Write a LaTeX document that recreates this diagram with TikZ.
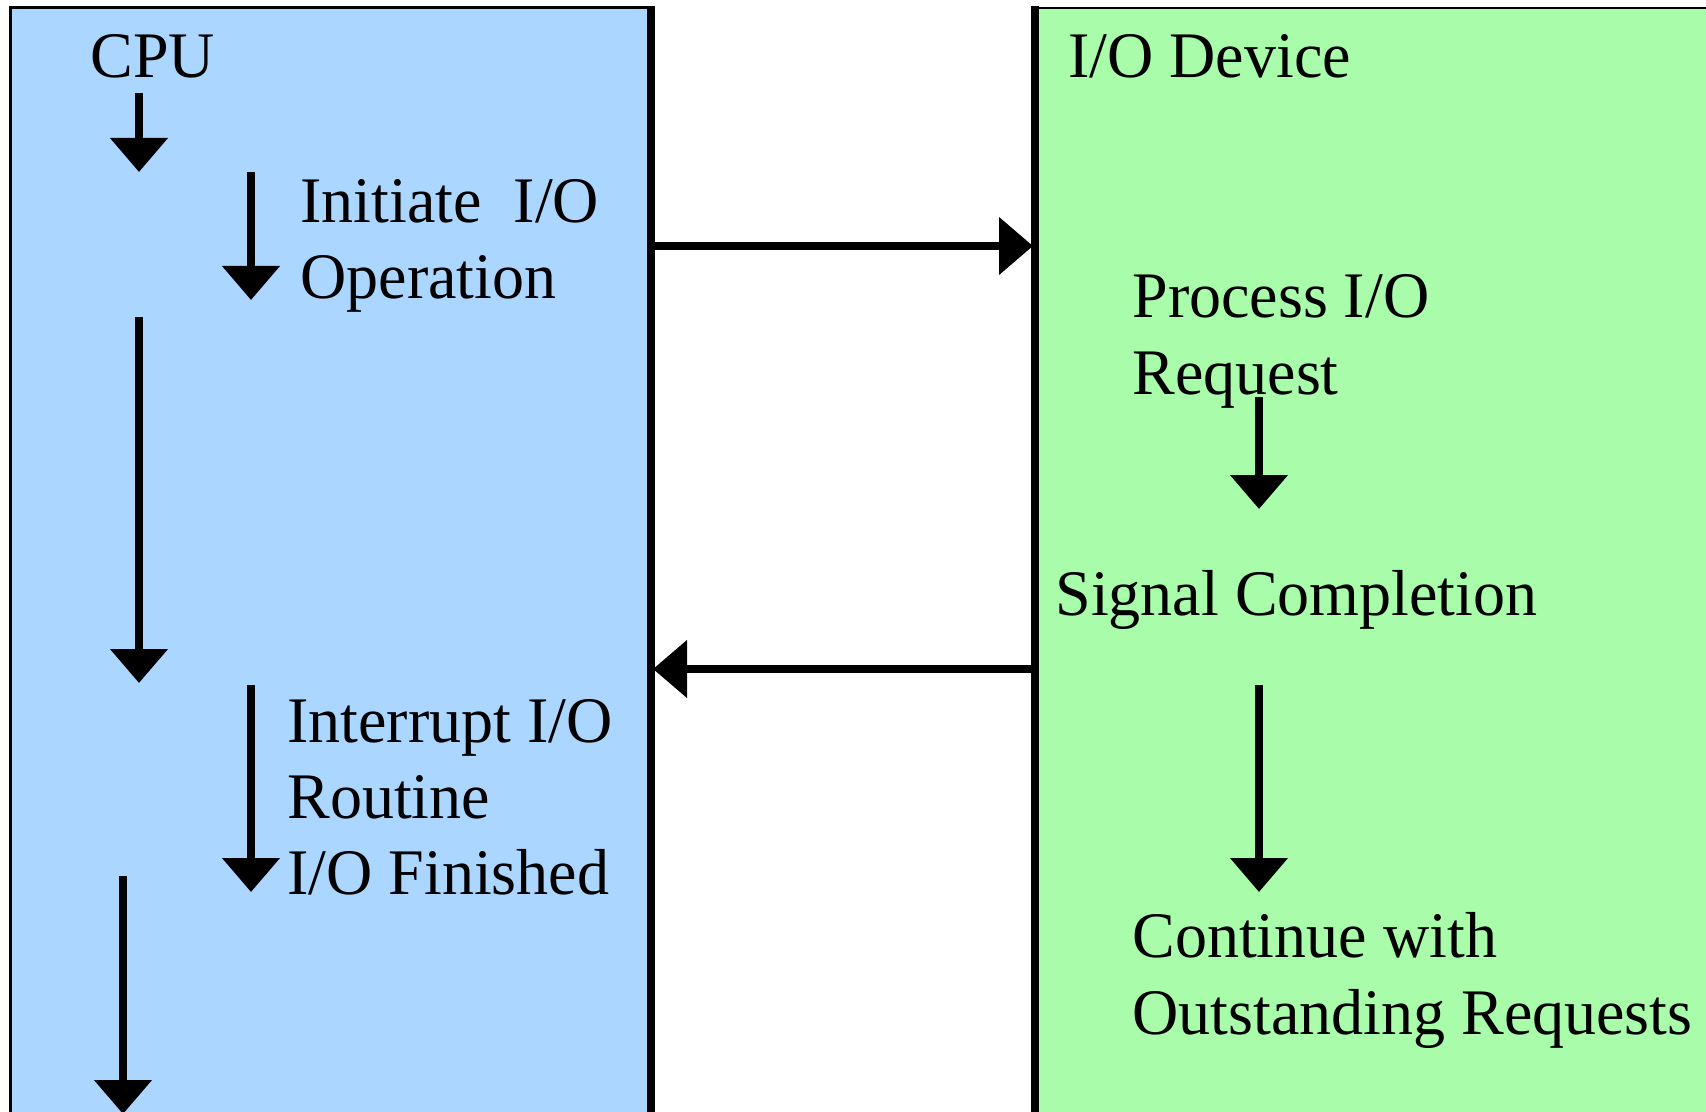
\documentclass[tikz,border=0pt]{standalone}
\usepackage{fontspec}
\setmainfont[FakeStretch=0.985]{Liberation Serif}
\usetikzlibrary{arrows.meta}
\definecolor{cpublue}{RGB}{170,214,255}
\definecolor{devgreen}{RGB}{168,252,170}

\begin{document}
\begin{tikzpicture}[x=0.5pt,y=-0.5pt,
  lbl/.style={anchor=base west, inner sep=0pt, font=\fontsize{32.5}{38}\selectfont},
  flow/.style={line width=4pt, -{Triangle[length=17pt,width=28pt]}},
  panelrim/.style={line width=3.6pt}]
\useasboundingbox (0,0) rectangle (1706,1112);
\clip (0,0) rectangle (1706,1112);

% CPU panel
\fill[cpublue] (10,8) rectangle (651,1130);
\draw[line width=1.5pt] (10,1130) -- (10,8) -- (651,8);
\draw[panelrim] (651,6) -- (651,1130);

% I/O device panel
\fill[devgreen] (1035,8) rectangle (1720,1130);
\draw[line width=1.2pt] (1035,8) -- (1720,8);
\draw[panelrim] (1035,6) -- (1035,1130);

% labels
\node[lbl] (cpu)    at (90,78)   {CPU};
\node[lbl] (dev)    at (1068,78) {I/O Device};
\node[lbl] (init1)  at (300,223) {Initiate~~I/O};
\node[lbl] (init2)  at (300,299) {Operation};
\node[lbl] (proc1)  at (1132,318) {Process I/O};
\node[lbl] (proc2)  at (1132,394) {Request};
\node[lbl] (sig)    at (1055,615) {Signal Completion};
\node[lbl] (intr1)  at (287,742) {Interrupt I/O};
\node[lbl] (intr2)  at (287,818) {Routine};
\node[lbl] (intr3)  at (287,894) {I/O Finished};
\node[lbl] (cont1)  at (1132,957) {Continue with};
\node[lbl] (cont2)  at (1132,1034) {Outstanding Requests};

% flow points
\coordinate (a1s) at (139,93);   \coordinate (a1e) at (139,172);
\coordinate (a2s) at (251,172);  \coordinate (a2e) at (251,300);
\coordinate (a3s) at (139,317);  \coordinate (a3e) at (139,683);
\coordinate (a4s) at (251,685);  \coordinate (a4e) at (251,892);
\coordinate (a5s) at (123,876);  \coordinate (a5e) at (123,1114);
\coordinate (b1s) at (1259,397); \coordinate (b1e) at (1259,509);
\coordinate (b2s) at (1259,685); \coordinate (b2e) at (1259,892);
\coordinate (reqS) at (653,246); \coordinate (reqE) at (1033,246);
\coordinate (sigS) at (1033,669); \coordinate (sigE) at (653,669);

% CPU timeline
\draw[flow] (a1s) -- (a1e);
\draw[flow] (a2s) -- (a2e);
\draw[flow] (a3s) -- (a3e);
\draw[flow] (a4s) -- (a4e);
\draw[flow] (a5s) -- (a5e);

% device timeline
\draw[flow] (b1s) -- (b1e);
\draw[flow] (b2s) -- (b2e);

% messages between the two sides
\draw[flow] (reqS) -- (reqE);
\draw[flow] (sigS) -- (sigE);
\end{tikzpicture}
\end{document}
